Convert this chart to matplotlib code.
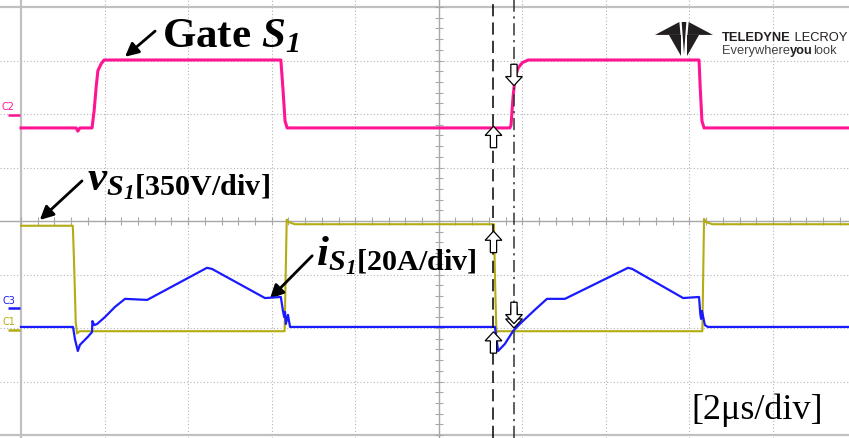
import numpy as np
import matplotlib
matplotlib.use("Agg")
import matplotlib.pyplot as plt
from matplotlib.patches import FancyArrow, Polygon

plt.rcParams['mathtext.fontset'] = 'custom'
plt.rcParams['mathtext.rm'] = 'Liberation Serif'
plt.rcParams['mathtext.it'] = 'Liberation Serif:italic'
plt.rcParams['mathtext.bf'] = 'Liberation Serif:bold'
plt.rcParams['mathtext.bfit'] = 'Liberation Serif:italic:bold'

# --- scope settings ---
t_div = 2.0        # us/div
v_div = 350.0      # V/div  (C1)
i_div = 20.0       # A/div  (C3)
gate_offset = 1.74     # div, C2 low level
v_offset = -2.06       # div, C1 zero
i_offset = -1.98       # div, C3 zero

# --- gate S1 (C2), in divisions above its offset ---
gate_t = [0.0, 1.32, 1.36, 1.41, 1.70, 1.75, 1.80, 1.84, 1.92, 1.99,
          6.22, 6.27, 6.32, 6.37, 11.70, 11.73, 11.78, 11.83, 11.90, 12.00, 12.14,
          16.23, 16.26, 16.30, 16.35, 19.9]
gate_d = [0, 0, -0.06, 0, 0, 0.32, 0.77, 1.07, 1.20, 1.27,
          1.27, 0.73, 0.13, 0, 0, 0.05, 0.60, 0.95, 1.12, 1.22, 1.27,
          1.27, 0.73, 0.13, 0, 0]

# --- v_S1 (C1), volts ---
v_t = [0.0, 1.24, 1.27, 1.31, 1.34, 1.40, 6.31, 6.36, 6.40, 6.55,
       11.32, 11.35, 11.38, 11.42, 16.31, 16.35, 16.39, 16.55, 19.9]
v_val = [690, 690, 450, 60, -15, 0, 0, 730, 715, 700,
         700, 300, -10, 0, 0, 735, 715, 700, 700]

# --- i_S1 (C3), amps ---
i_t = [0.0, 1.245, 1.29, 1.36, 1.41, 1.60, 1.70, 1.71, 1.75, 1.82, 2.01, 2.25, 2.49, 3.02,
       4.45, 4.57, 5.84, 6.22, 6.27, 6.30, 6.32, 6.34, 6.39, 6.44,
       11.345, 11.42, 11.58, 11.78, 11.94, 12.30, 12.59, 13.02,
       14.53, 14.63, 15.85, 16.23, 16.26, 16.28, 16.30, 16.33, 16.37, 16.44, 19.9]
i_val = [0, 0, -4.5, -9.0, -6.7, -3.7, -1.9, 2.2, 0.7, 1.1, 3.7, 7.5, 10.5, 10.1,
         22.1, 21.7, 10.8, 11.2, 6.0, 3.7, 5.6, 1.1, 4.5, 0,
         0, -9.0, -6.4, -1.5, 1.1, 6.4, 10.5, 10.5,
         22.1, 21.7, 10.8, 11.2, 4.9, 3.0, 6.0, 3.7, 0.7, 0, 0]

cursor1 = 11.31
cursor2 = 11.80

pink = '#ff1493'
olive = '#b3ac12'
blue = '#1a1aff'
gridc = '#b4b4b4'

gate_y = gate_offset + np.array(gate_d)
v_y = v_offset + np.array(v_val) / v_div
i_y = i_offset + np.array(i_val) / i_div

fig = plt.figure(figsize=(8.49, 4.39), dpi=100)
ax = fig.add_axes([0, 0, 1, 1])
ax.set_xlim(-0.503, 19.82)
ax.set_ylim(-4.056, 4.15)
ax.axis('off')

# graticule
for k in range(1, 10):
    if k != 5:
        ax.axvline(k * t_div, color=gridc, lw=0.8, ls=(0, (1, 2)), zorder=0)
for k in range(-3, 4):
    if k != 0:
        ax.axhline(k, color=gridc, lw=0.8, ls=(0, (1, 2)), zorder=0)
ax.axvline(0, color='#c0c0c0', lw=1.6, zorder=0)
ax.axhline(4, color='#c0c0c0', lw=1.6, zorder=0)
ax.axhline(-4, color='#c0c0c0', lw=1.6, zorder=0)
ax.axhline(0, color='#a8a8a8', lw=1.0, zorder=0)
ax.axvline(5 * t_div, color='#a8a8a8', lw=1.0, zorder=0)
tx = np.arange(0, 20.01, 0.4)
ax.plot(tx, np.zeros_like(tx), ls='none', marker='|', ms=6, mew=0.8, color='#a8a8a8', zorder=0)
ty = np.arange(-4, 4.01, 0.2)
ax.plot(np.full_like(ty, 5 * t_div), ty, ls='none', marker='_', ms=6, mew=0.8, color='#a8a8a8', zorder=0)

# traces
ax.plot(v_t, v_y, color=olive, lw=1.5, zorder=3)
ax.plot(i_t, i_y, color=blue, lw=1.6, zorder=4)
ax.plot(gate_t, gate_y, color=pink, lw=2.2, zorder=3)

# channel markers
for lab, yl, ym, c in [('C2', 2.15, 1.98, pink), ('C3', -1.48, -1.63, blue), ('C1', -1.87, -2.04, olive)]:
    ax.text(-0.30, yl, lab, color=c, fontsize=7, ha='center', va='center', family='DejaVu Sans')
    ax.plot([-0.30, -0.02], [ym, ym], color=c, lw=1.8, solid_capstyle='butt')

# cursors
ax.axvline(cursor1, color='k', lw=1.1, ls=(0, (8, 4)), zorder=5)
ax.axvline(cursor2, color='#333333', lw=1.1, ls=(0, (8, 3, 1.5, 3)), zorder=5)


def hollow_arrow(x, tip, up):
    L = 0.40
    start = tip - L if up else tip + L
    dy = L if up else -L
    ax.add_patch(FancyArrow(x, start, 0, dy, width=0.15, head_width=0.40, head_length=0.17,
                            length_includes_head=True, fc='white', ec='k', lw=0.9, zorder=6))


g1 = gate_offset + np.interp(cursor1, gate_t, gate_d)
v1 = v_offset + np.interp(cursor1, v_t, v_val) / v_div
i1 = i_offset + np.interp(cursor1, i_t, i_val) / i_div
hollow_arrow(cursor1, g1 + 0.03, True)
hollow_arrow(cursor1, v1 - 0.13, True)
hollow_arrow(cursor1, i1 - 0.09, True)
g2 = gate_offset + np.interp(cursor2, gate_t, gate_d)
v2 = v_offset + np.interp(cursor2, v_t, v_val) / v_div
i2 = i_offset + np.interp(cursor2, i_t, i_val) / i_div
hollow_arrow(cursor2, g2 + 0.05, False)
hollow_arrow(cursor2, v2 + 0.06, False)
hollow_arrow(cursor2, i2 + 0.12, False)

# annotations
ap = dict(arrowstyle='-|>', color='k', lw=2.0, mutation_scale=20, shrinkA=0, shrinkB=0)
ax.annotate('', xy=(2.49, 3.07), xytext=(3.21, 3.55), arrowprops=ap)
ax.annotate('', xy=(0.45, 0.02), xytext=(1.46, 0.75), arrowprops=ap)
ax.annotate('', xy=(5.96, -1.45), xytext=(6.97, -0.65), arrowprops=ap)

ax.text(3.38, 3.27, r'Gate $\mathbfit{S}_{\mathbfit{1}}$', family='Liberation Serif',
        weight='bold', fontsize=31, ha='left', va='baseline')
ax.text(1.58, 0.60, r'$\mathbfit{v}_{\mathbfit{S}_{\mathbfit{1}}\mathbf{[350V/div]}}$',
        fontsize=31, ha='left', va='baseline')
ax.text(7.05, -0.80, r'$\mathbfit{i}_{\mathbfit{S}_{\mathbfit{1}}\mathbf{[20A/div]}}$',
        fontsize=31, ha='left', va='baseline')
ax.text(16.05, -3.68, '[2\u03bcs/div]', family='Liberation Serif', fontsize=26,
        ha='left', va='baseline')

# LeCroy logo
lax = fig.add_axes([655 / 849, 1 - 57 / 439, 58 / 849, 34 / 439])
lax.set_xlim(0, 1)
lax.set_ylim(0, 1)
lax.axis('off')
for pts in [[(0.0, 0.62), (0.42, 1.0), (0.44, 0.62)],
            [(0.24, 0.62), (0.44, 0.62), (0.44, 0.0)],
            [(0.46, 1.0), (0.54, 1.0), (0.50, 0.05)],
            [(1.0, 0.62), (0.58, 1.0), (0.56, 0.62)],
            [(0.76, 0.62), (0.56, 0.62), (0.56, 0.0)]]:
    lax.add_patch(Polygon(pts, closed=True, fc='#231f20', ec='none'))

renderer = fig.canvas.get_renderer()


def text_run(x0, y0, parts, size):
    # place text pieces one after another on the same baseline
    for s, w, c in parts:
        t = fig.text(x0, y0, s, family='Liberation Sans', weight=w,
                     fontsize=size, color=c, ha='left', va='baseline')
        bb = t.get_window_extent(renderer)
        x0 = bb.x1 / fig.bbox.width


text_run(722 / 849, 1 - 41 / 439, [('TELEDYNE', 'bold', '#231f20'), (' LECROY', 'normal', '#231f20')], 9.3)
text_run(722 / 849, 1 - 54 / 439, [('Everywhere', 'normal', '#444444'), ('you', 'bold', '#231f20'),
                                    ('look', 'normal', '#444444')], 9.3)

fig.savefig('out.png', dpi=100, facecolor='white')
